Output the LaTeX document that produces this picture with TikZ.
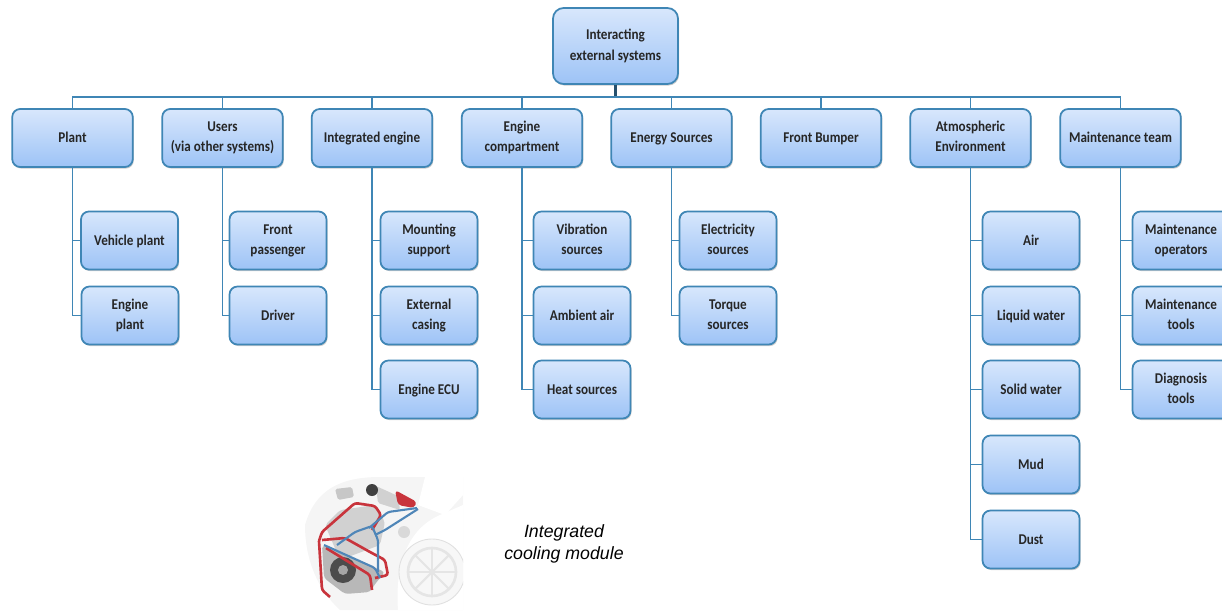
\documentclass[tikz,border=0pt]{standalone}
\usepackage{fontspec}
\usepackage{tikz}
\usetikzlibrary{shadows}
\setmainfont[FakeStretch=0.88]{Carlito}
\newfontfamily\captionfont{Liberation Sans}

\definecolor{boxline}{HTML}{3F86B5}
\definecolor{boxtop}{HTML}{D8E7FC}
\definecolor{boxbottom}{HTML}{9DC3F6}
\definecolor{coolred}{HTML}{C8343C}
\definecolor{coolblue}{HTML}{4F86B8}

\tikzset{
    item/.style={draw=boxline, line width=1pt, rounded corners=4.5pt, top color=boxtop, bottom color=boxbottom,
        minimum width=1.94cm, minimum height=1.16cm, align=center, font=\fontsize{8.5}{11.4}\selectfont\bfseries,
        text=black!85, inner sep=0pt, execute at begin node=\rule{0pt}{7.1pt}, execute at end node=\vphantom{g},
        drop shadow={shadow xshift=0.6pt, shadow yshift=-0.9pt, opacity=0.4}},
    group/.style={item, minimum width=2.41cm},
    link/.style={draw=boxline, line width=1pt},
    redpipe/.style={draw=coolred, line width=1.5pt, rounded corners=1.5pt},
    bluepipe/.style={draw=coolblue, line width=1.2pt, rounded corners=1.5pt},
    carpart/.style={draw=black!12, fill=white, line width=0.5pt}
}

\begin{document}
\begin{tikzpicture}[x=0.02cm, y=-0.02cm]
        \clip (0, 0) rectangle (1222, 612);

        % car picture
        \begin{scope}
            \clip (305, 476) rectangle (463, 610);
            \fill[black!4] (305, 525) .. controls (315, 490) and (340, 477) .. (380, 477) -- (463, 477) -- (463, 610) -- (340, 610) .. controls (318, 590) and (305, 560) .. (305, 525);
            \fill[white] (425, 477) -- (463, 477) -- (463, 495) -- (445, 515) -- (418, 505) -- cycle;
            \fill[white] (398, 610) .. controls (395, 570) and (405, 530) .. (440, 515) -- (463, 505) -- (463, 610) -- cycle;
            \draw[carpart, fill=black!3] (432, 572) circle (33);
            \draw[black!10, line width=1.5pt] (432, 572) circle (24);
            \foreach \a in {0, 45, ..., 315} {
                \draw[black!10, line width=1.2pt] (432, 572) -- ++(\a:23);
            }
            \fill[black!18, rounded corners=2pt] (325, 525) -- (340, 510) -- (375, 505) -- (385, 522) -- (380, 545) -- (340, 560) -- cycle;
            \fill[black!28, rounded corners=2pt] (322, 545) -- (385, 572) -- (375, 584) -- (370, 592) -- (345, 594) -- (324, 578) -- cycle;
            \fill[black!70] (343, 570) circle (13);
            \fill[black!35] (343, 570) circle (5);
            \fill[black!22, rounded corners=1pt] (335, 489) -- (352, 487) -- (354, 497) -- (338, 500) -- cycle;
            \fill[black!18, rounded corners=1pt] (376, 486) -- (398, 496) -- (400, 510) -- (378, 503) -- cycle;
            \fill[black!75] (372, 490) circle (6);
            \fill[coolred, rounded corners=2pt] (395, 490) -- (417, 502) -- (414, 508) -- (398, 505) -- cycle;
            \fill[black!15] (404, 532) circle (6);

            \draw[redpipe] (319, 541) -- (322, 532) -- (355, 503) -- (375, 506) -- (381, 515) -- (372, 530);
            \draw[redpipe] (319, 541) -- (322, 590) -- (330, 597);
            \draw[redpipe] (322, 540) -- (345, 538) -- (370, 552) -- (385, 560) -- (388, 575) -- (375, 578);
            \draw[redpipe] (326, 548) -- (370, 575) -- (372, 590);
            \draw[bluepipe] (369, 528) -- (388, 512) -- (417, 508);
            \draw[bluepipe] (375, 535) -- (385, 530) -- (418, 509);
            \draw[bluepipe] (337, 545) -- (355, 532) -- (372, 526) -- (378, 540) -- (378, 572);
            \draw[bluepipe] (324, 545) -- (375, 568) -- (380, 578);
        \end{scope}
        \node[font=\captionfont\fontsize{10.1}{12.6}\selectfont\itshape, align=center] (label) at (564, 543.5) {Integrated\\cooling module};

        % top level
        \node[item, minimum width=2.5cm, minimum height=1.52cm, rounded corners=6pt] (top) at (615.5, 46) {Interacting\\external systems};
        \coordinate (bus) at (615.5, 97);

        \node[group] (plant) at (72.5, 138) {Plant};
        \node[group] (users) at (222.5, 138) {Users\\(via other systems)};
        \node[group] (integrated) at (372, 138) {Integrated engine};
        \node[group] (compartment) at (522, 138) {Engine\\compartment};
        \node[group] (energy) at (671.5, 138) {Energy Sources};
        \node[group] (bumper) at (821, 138) {Front Bumper};
        \node[group] (atmosphere) at (970.5, 138) {Atmospheric\\Environment};
        \node[group] (maintenance) at (1120.5, 138) {Maintenance team};

        % children
        \node[item] (vehicleplant) at (129.5, 240.5) {Vehicle plant};
        \node[item] (engineplant) at (130, 315.5) {Engine\\plant};

        \node[item] (passenger) at (278, 240.5) {Front\\passenger};
        \node[item] (driver) at (278, 315.5) {Driver};

        \node[item] (mounting) at (429, 240.5) {Mounting\\support};
        \node[item] (casing) at (429, 315.5) {External\\casing};
        \node[item] (ecu) at (429, 389.5) {Engine ECU};

        \node[item] (vibration) at (582, 240.5) {Vibration\\sources};
        \node[item] (ambient) at (582, 315.5) {Ambient air};
        \node[item] (heat) at (582, 389.5) {Heat sources};

        \node[item] (electricity) at (728, 240.5) {Electricity\\sources};
        \node[item] (torque) at (728, 315.5) {Torque\\sources};

        \node[item] (air) at (1031, 240.5) {Air};
        \node[item] (liquid) at (1031, 315.5) {Liquid water};
        \node[item] (solid) at (1031, 389.5) {Solid water};
        \node[item] (mud) at (1031, 464.5) {Mud};
        \node[item] (dust) at (1031, 539.5) {Dust};

        \node[item] (operators) at (1181, 240.5) {Maintenance\\operators};
        \node[item] (tools) at (1181, 315.5) {Maintenance\\tools};
        \node[item] (diagnosis) at (1181, 389.5) {Diagnosis\\tools};

        % connectors
        \draw[link, line width=1.6pt, draw=boxline!60!black] (top.south) -- (bus);
        \draw[link] (bus) -| (plant.north);
        \draw[link] (bus) -| (users.north);
        \draw[link] (bus) -| (integrated.north);
        \draw[link] (bus) -| (compartment.north);
        \draw[link] (bus) -| (energy.north);
        \draw[link] (bus) -| (bumper.north);
        \draw[link] (bus) -| (atmosphere.north);
        \draw[link] (bus) -| (maintenance.north);

        \draw[link] (plant.south) |- (vehicleplant.west);
        \draw[link] (plant.south) |- (engineplant.west);
        \draw[link] (users.south) |- (passenger.west);
        \draw[link] (users.south) |- (driver.west);
        \draw[link] (integrated.south) |- (mounting.west);
        \draw[link] (integrated.south) |- (casing.west);
        \draw[link] (integrated.south) |- (ecu.west);
        \draw[link] (compartment.south) |- (vibration.west);
        \draw[link] (compartment.south) |- (ambient.west);
        \draw[link] (compartment.south) |- (heat.west);
        \draw[link] (energy.south) |- (electricity.west);
        \draw[link] (energy.south) |- (torque.west);
        \draw[link] (atmosphere.south) |- (air.west);
        \draw[link] (atmosphere.south) |- (liquid.west);
        \draw[link] (atmosphere.south) |- (solid.west);
        \draw[link] (atmosphere.south) |- (mud.west);
        \draw[link] (atmosphere.south) |- (dust.west);
        \draw[link] (maintenance.south) |- (operators.west);
        \draw[link] (maintenance.south) |- (tools.west);
        \draw[link] (maintenance.south) |- (diagnosis.west);
    \end{tikzpicture}
\end{document}
